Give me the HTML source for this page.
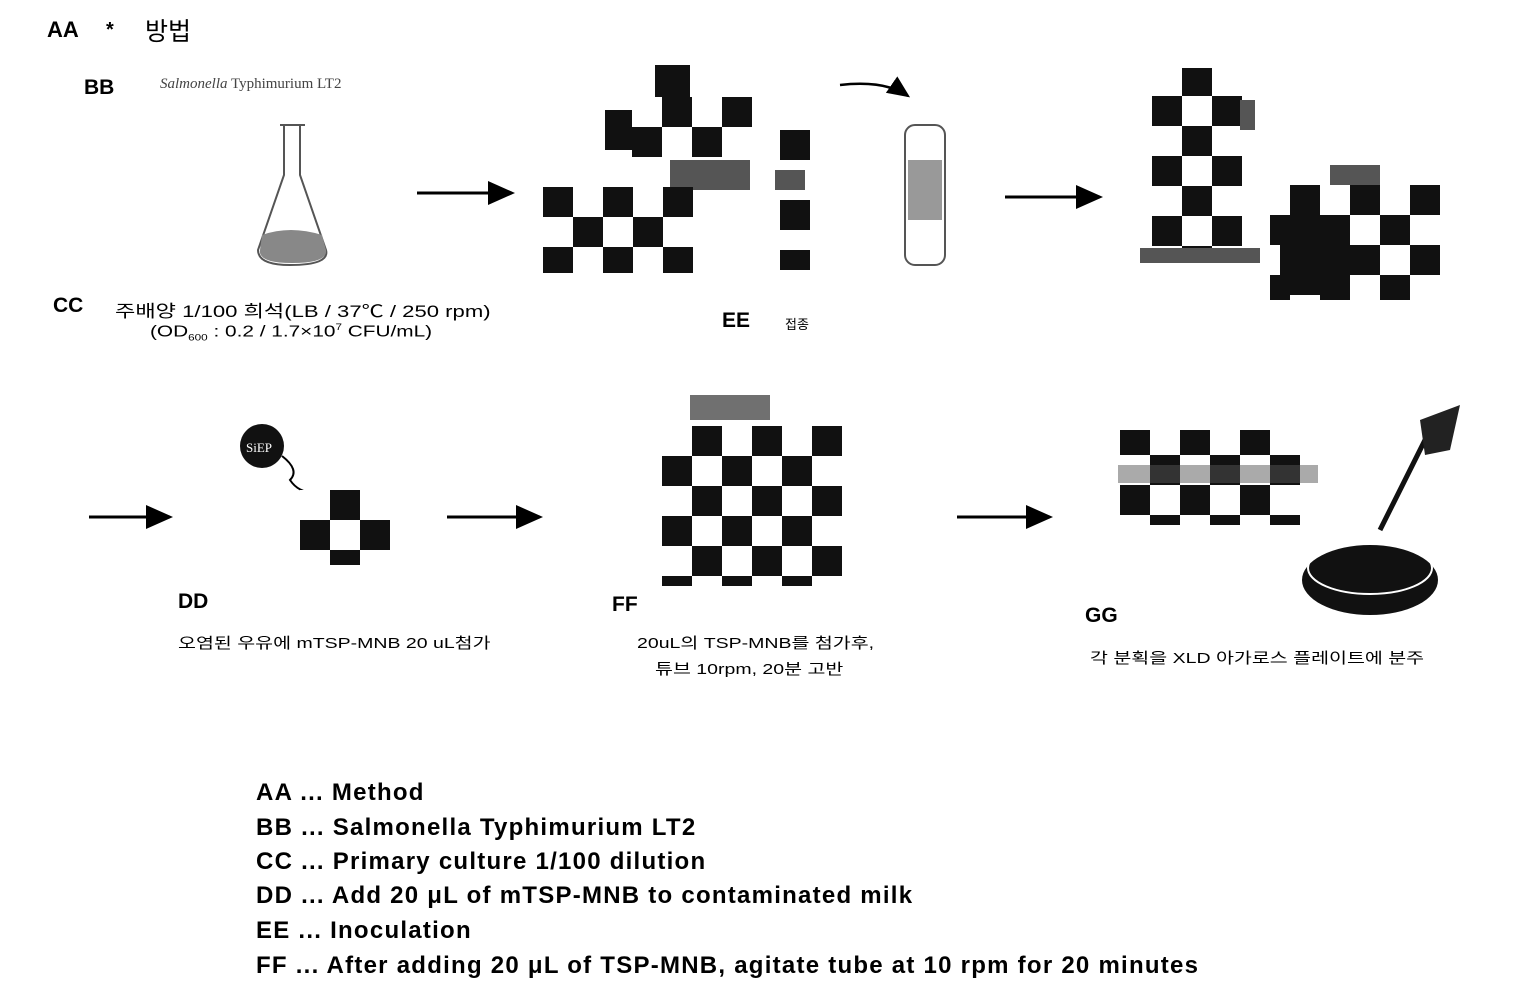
<!DOCTYPE html>
<html><head><meta charset="utf-8"><style>
body{margin:0;width:1532px;height:981px;background:#fff;position:relative;overflow:hidden;font-family:"Liberation Sans","Noto Sans CJK KR",sans-serif;color:#000}
.a{position:absolute;white-space:nowrap}
.b{font-weight:bold}
.s{transform:scaleX(1.3);transform-origin:0 0}
.ck{position:absolute;background:repeating-conic-gradient(#111 0 25%,#fff 0 50%) 0 0/60px 60px}
.g{position:absolute;background:#555}
.k{position:absolute;background:#111}
.lg{font-size:24px;font-weight:bold;left:256px;letter-spacing:1.25px}
</style></head><body>
<div class="a b" style="left:47px;top:17px;font-size:22px">AA</div>
<div class="a b" style="left:106px;top:19px;font-size:20px">*</div>
<div class="a" style="left:145px;top:12px;font-size:25px">방법</div>
<div class="a b" style="left:84px;top:76px;font-size:21px">BB</div>
<div class="a" style="left:160px;top:76px;font-size:15px;font-family:'Liberation Serif',serif;color:#444"><i>Salmonella</i> Typhimurium LT2</div>

<svg class="a" style="left:250px;top:120px" width="95" height="155">
<path d="M30 5 H55 M34 5 V55 L8 130 Q8 145 40 145 Q80 145 76 130 L50 55 V5" fill="none" stroke="#555" stroke-width="2"/>
<path d="M12 115 Q40 105 72 115 L76 130 Q78 143 42 143 Q8 143 10 130Z" fill="#888"/>
</svg>

<div class="a b" style="left:53px;top:294px;font-size:21px">CC</div>
<div class="a s" style="left:115px;top:297px;font-size:17px">주배양 1/100 희석(LB / 37℃ / 250 rpm)</div>
<div class="a s" style="left:150px;top:322px;font-size:16px">(OD<sub style="font-size:9px">600</sub> : 0.2 / 1.7×10<sup style="font-size:9px">7</sup> CFU/mL)</div>

<svg class="a" style="left:0;top:0" width="1532" height="981">
<defs><marker id="m" markerWidth="10" markerHeight="10" refX="8" refY="5" orient="auto"><path d="M0 1 L9 5 L0 9Z" fill="#000"/></marker></defs>
<g stroke="#000" stroke-width="3" marker-end="url(#m)">
<line x1="417" y1="193" x2="512" y2="193"/>
<line x1="1005" y1="197" x2="1100" y2="197"/>
<line x1="89" y1="517" x2="170" y2="517"/>
<line x1="447" y1="517" x2="540" y2="517"/>
<line x1="957" y1="517" x2="1050" y2="517"/>
</g>
<path d="M840 85 Q885 80 908 96" fill="none" stroke="#000" stroke-width="2.5" marker-end="url(#m)"/>
<ellipse cx="1370" cy="580" rx="68" ry="35" fill="#111"/>
<ellipse cx="1370" cy="568" rx="62" ry="26" fill="none" stroke="#fff" stroke-width="2"/>
<line x1="1380" y1="530" x2="1425" y2="440" stroke="#111" stroke-width="5"/>
<path d="M1420 420 L1460 405 L1450 450 L1425 455Z" fill="#222"/>
<circle cx="262" cy="446" r="22" fill="#111"/>
<text x="246" y="452" font-size="13" fill="#fff" font-family="Liberation Serif">SiEP</text>
<path d="M282 456 Q300 470 290 480 Q300 495 320 492" fill="none" stroke="#000" stroke-width="2"/>
<rect x="905" y="125" width="40" height="140" rx="10" fill="none" stroke="#555" stroke-width="2"/>
<rect x="908" y="160" width="34" height="60" fill="#999"/>
</svg>

<div class="ck" style="left:632px;top:97px;width:120px;height:60px;background-position:0 0"></div>
<div class="k" style="left:605px;top:110px;width:27px;height:40px"></div>
<div class="k" style="left:655px;top:65px;width:35px;height:32px"></div>
<div class="g" style="left:670px;top:160px;width:80px;height:30px"></div>
<div class="ck" style="left:543px;top:187px;width:150px;height:86px;background-position:-30px 0"></div>
<div class="k" style="left:780px;top:130px;width:30px;height:30px"></div>
<div class="g" style="left:775px;top:170px;width:30px;height:20px"></div>
<div class="k" style="left:780px;top:200px;width:30px;height:30px"></div>
<div class="k" style="left:780px;top:250px;width:30px;height:20px"></div>
<div class="a b" style="left:722px;top:309px;font-size:21px">EE</div>
<div class="a" style="left:785px;top:314px;font-size:13px">접종</div>

<div class="ck" style="left:1152px;top:68px;width:90px;height:195px;background-position:0 -2px"></div>
<div class="g" style="left:1240px;top:100px;width:15px;height:30px"></div>
<div class="g" style="left:1140px;top:248px;width:120px;height:15px"></div>
<div class="ck" style="left:1270px;top:185px;width:170px;height:115px;background-position:-10px 0"></div>
<div class="k" style="left:1280px;top:215px;width:70px;height:80px"></div>
<div class="g" style="left:1330px;top:165px;width:50px;height:20px"></div>

<div class="ck" style="left:300px;top:490px;width:90px;height:75px;background-position:0 0"></div>
<div class="a b" style="left:178px;top:590px;font-size:21px">DD</div>
<div class="a s" style="left:178px;top:632px;font-size:15px">오염된 우유에 mTSP-MNB 20 uL첨가</div>

<div class="ck" style="left:662px;top:426px;width:180px;height:160px;background-position:0 0"></div>
<div class="k" style="left:690px;top:395px;width:80px;height:25px;opacity:.6"></div>
<div class="a b" style="left:612px;top:593px;font-size:21px">FF</div>
<div class="a s" style="left:637px;top:632px;font-size:15px">20uL의 TSP-MNB를 첨가후,</div>
<div class="a s" style="left:655px;top:658px;font-size:15px">튜브 10rpm, 20분 고반</div>

<div class="ck" style="left:1120px;top:430px;width:180px;height:95px;background-position:-30px -5px"></div>
<div class="g" style="left:1118px;top:465px;width:200px;height:18px;opacity:.5"></div>
<div class="a b" style="left:1085px;top:604px;font-size:21px">GG</div>
<div class="a s" style="left:1090px;top:647px;font-size:15px">각 분획을 XLD 아가로스 플레이트에 분주</div>

<div class="a lg" style="top:779px">AA ... Method</div>
<div class="a lg" style="top:814px">BB ... Salmonella Typhimurium LT2</div>
<div class="a lg" style="top:848px">CC ... Primary culture 1/100 dilution</div>
<div class="a lg" style="top:882px">DD ... Add 20 μL of mTSP-MNB to contaminated milk</div>
<div class="a lg" style="top:917px">EE ... Inoculation</div>
<div class="a lg" style="top:952px">FF ... After adding 20 μL of TSP-MNB, agitate tube at 10 rpm for 20 minutes</div>
</body></html>
